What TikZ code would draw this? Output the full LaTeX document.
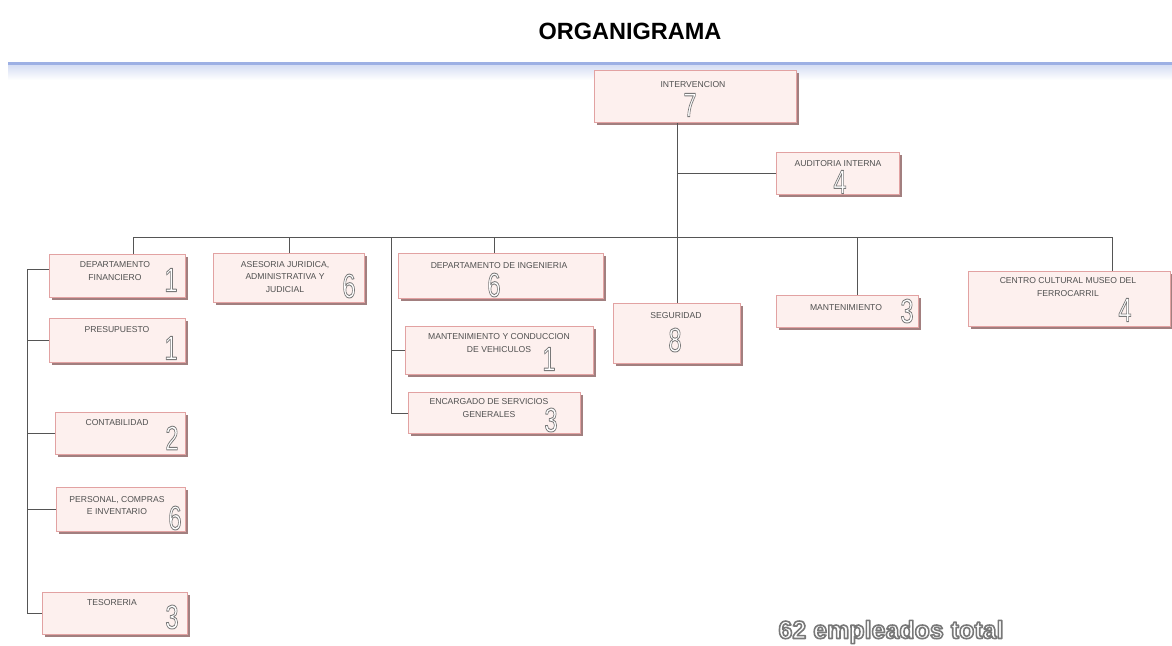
\documentclass[tikz,border=0pt]{standalone}
\usepackage{fontspec}
\setmainfont{Liberation Sans}
\usepackage{graphicx}
\usetikzlibrary{shadows}
\definecolor{boxfill}{HTML}{FDF0EE}
\definecolor{boxdraw}{HTML}{E2A2A2}
\definecolor{shad}{HTML}{A27F7F}
\definecolor{linec}{HTML}{555555}
\definecolor{txt}{HTML}{505050}
\definecolor{numgray}{HTML}{7C7C7C}
\definecolor{topline}{HTML}{9DB0E4}
% outlined text: fill white, stroke gray (PDF text render mode 2)
\newcommand\hol[2][0.9]{\special{pdf:literal direct 2 Tr #1 w 1 j 1 1 1 rg 0.47 0.47 0.47 RG}#2\special{pdf:literal direct 0 Tr}}
\newcommand\bignum[1]{\scalebox{0.7}[1]{\fontsize{34}{34}\selectfont\hol{#1}}}
\tikzset{
  box/.style={draw=boxdraw, fill=boxfill, line width=0.8pt, anchor=north west, inner sep=0pt,
    drop shadow={shadow xshift=2.5pt, shadow yshift=-2.5pt, fill=shad, opacity=1}},
  lbl/.style={text=txt, font=\fontsize{8.6}{12.5}\selectfont, align=center, inner sep=0pt},
  num/.style={inner sep=0pt, text=numgray},
  conn/.style={draw=linec, line width=0.8pt}
}
\begin{document}
\begin{tikzpicture}[x=1pt,y=-1pt]
\useasboundingbox (0,0) rectangle (1172,645);
\fill[white] (0,0) rectangle (1172,645);
% title and top rule
\node[font=\bfseries\fontsize{23.5}{24}\selectfont, inner sep=0pt] (title) at (630,31) {ORGANIGRAMA};
\shade[top color=topline!45, bottom color=white] (8,64) rectangle (1172,80);
\draw[topline, line width=2.5pt] (8,63.5) -- (1172,63.5);

% boxes
\node[box, minimum width=202pt, minimum height=52pt] (int) at (594,70) {};
\node[box, minimum width=123pt, minimum height=42pt] (aud) at (776,152) {};
\node[box, minimum width=136pt, minimum height=43pt] (fin) at (49,254) {};
\node[box, minimum width=136pt, minimum height=44pt] (pre) at (49,318) {};
\node[box, minimum width=130pt, minimum height=42pt] (con) at (55,412) {};
\node[box, minimum width=129pt, minimum height=44pt] (per) at (56,487) {};
\node[box, minimum width=145pt, minimum height=42pt] (tes) at (42,592) {};
\node[box, minimum width=151pt, minimum height=49pt] (ase) at (213,253) {};
\node[box, minimum width=205pt, minimum height=45pt] (ing) at (398,253) {};
\node[box, minimum width=188pt, minimum height=48pt] (mvc) at (405,326) {};
\node[box, minimum width=172pt, minimum height=41pt] (enc) at (408,392) {};
\node[box, minimum width=127pt, minimum height=60pt] (seg) at (613,303) {};
\node[box, minimum width=142pt, minimum height=32pt] (man) at (776,295) {};
\node[box, minimum width=202pt, minimum height=55pt] (cen) at (968,271) {};

% labels
\node[lbl] (intL) at (693,85) {INTERVENCION};
\node[lbl] (audL) at (838,164) {AUDITORIA INTERNA};
\node[lbl] (finL) at (115,271) {DEPARTAMENTO\\FINANCIERO};
\node[lbl] (preL) at (117,330) {PRESUPUESTO};
\node[lbl] (conL) at (117,423) {CONTABILIDAD};
\node[lbl] (perL) at (117,505.5) {PERSONAL, COMPRAS\\E INVENTARIO};
\node[lbl] (tesL) at (112,603) {TESORERIA};
\node[lbl] (aseL) at (285,277) {ASESORIA JURIDICA,\\ADMINISTRATIVA Y\\JUDICIAL};
\node[lbl] (ingL) at (499,266) {DEPARTAMENTO DE INGENIERIA};
\node[lbl] (mvcL) at (499,343) {MANTENIMIENTO Y CONDUCCION\\DE VEHICULOS};
\node[lbl] (encL) at (489,408) {ENCARGADO DE SERVICIOS\\GENERALES};
\node[lbl] (segL) at (676,316) {SEGURIDAD};
\node[lbl] (manL) at (846,308) {MANTENIMIENTO};
\node[lbl] (cenL) at (1068,287) {CENTRO CULTURAL MUSEO DEL\\FERROCARRIL};

% numbers
\node[num] (intN) at (690,105) {\bignum{7}};
\node[num] (audN) at (840,182) {\bignum{4}};
\node[num] (finN) at (171,280) {\bignum{1}};
\node[num] (preN) at (171,348) {\bignum{1}};
\node[num] (conN) at (172,438) {\bignum{2}};
\node[num] (perN) at (175,518) {\bignum{6}};
\node[num] (tesN) at (172,617) {\bignum{3}};
\node[num] (aseN) at (349,286) {\bignum{6}};
\node[num] (ingN) at (494,285) {\bignum{6}};
\node[num] (mvcN) at (549,359) {\bignum{1}};
\node[num] (encN) at (551,420) {\bignum{3}};
\node[num] (segN) at (675,340) {\bignum{8}};
\node[num] (manN) at (907,311) {\bignum{3}};
\node[num] (cenN) at (1125,310) {\bignum{4}};

% total
\node[inner sep=0pt, text=numgray, font=\bfseries\fontsize{25}{25}\selectfont] (total) at (891,632) {\hol[1.6]{62 empleados total}};

% connectors
\coordinate (busL) at (133,237);
\coordinate (busR) at (1112,237);
\coordinate (dSub) at (391,237);
\coordinate (dIng) at (494,237);
\coordinate (dMan) at (857,237);
\coordinate (finT) at (27,269);
\draw[conn] (busL) -- (busR);
\draw[conn] (seg.north |- int.south) -- (seg.north);
\draw[conn] (seg.north |- aud.west) -- (aud.west);
\draw[conn] (busL) -- (busL |- fin.north);
\draw[conn] (ase.north |- busL) -- (ase.north);
\draw[conn] (dIng) -- (dIng |- ing.north);
\draw[conn] (dMan) -- (dMan |- man.north);
\draw[conn] (busR) -- (busR |- cen.north);
\draw[conn] (dSub) -- (dSub |- enc.west);
\draw[conn] (dSub |- mvc.west) -- (mvc.west);
\draw[conn] (dSub |- enc.west) -- (enc.west);
\draw[conn] (finT) -- (finT |- tes.west);
\draw[conn] (finT) -- (finT -| fin.west);
\draw[conn] (finT |- pre.west) -- (pre.west);
\draw[conn] (finT |- con.west) -- (con.west);
\draw[conn] (finT |- per.west) -- (per.west);
\draw[conn] (finT |- tes.west) -- (tes.west);
\end{tikzpicture}
\end{document}
